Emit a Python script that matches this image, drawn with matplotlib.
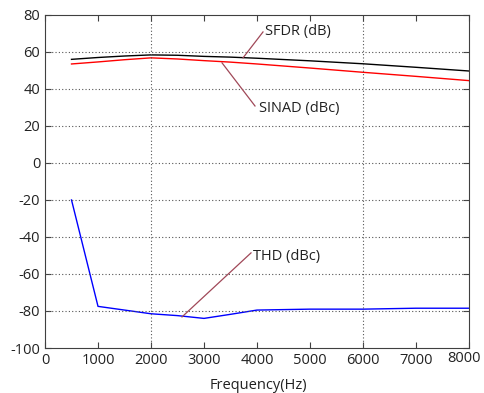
import matplotlib
matplotlib.use('Agg')
import matplotlib.pyplot as plt
import matplotlib.transforms as mtransforms

# данные
freq = [500, 1000, 1500, 2000, 2500, 3000, 3500, 4000, 5000, 6000, 7000, 8000]
sfdr = [56.0, 57.0, 57.8, 58.4, 58.2, 57.6, 57.2, 56.6, 55.2, 53.6, 51.7, 49.7]
sinad = [53.5, 54.6, 55.8, 56.8, 56.2, 55.3, 54.5, 53.5, 51.3, 49.0, 46.8, 44.5]
thd = [-20.0, -77.5, -79.5, -81.5, -82.5, -84.0, -81.8, -79.5, -79.0, -79.0, -78.5, -78.5]

xticks = [0, 1000, 2000, 3000, 4000, 5000, 6000, 7000, 8000]
yticks = [-100, -80, -60, -40, -20, 0, 20, 40, 60, 80]

# выноски: (текст, точка на кривой, конец линии)
labels = ['SFDR (dB)', 'SINAD (dBc)', 'THD (dBc)']
label_from = [(3736, 56.8), (3340, 54.1), (2585, -83.2)]
label_to = [(4113, 70.8), (3962, 30.8), (3887, -48.6)]
label_text = [(4151, 70.8), (4038, 29.7), (3925, -50.3)]

plt.rcParams['font.family'] = ['Open Sans', 'DejaVu Sans']
plt.rcParams['axes.unicode_minus'] = False

fig = plt.figure(figsize=(4.84, 3.93), dpi=100)
ax = fig.add_axes([0.093, 0.1145, 0.876, 0.8475])

ax.plot(freq, sfdr, color='black', linewidth=1.0)
ax.plot(freq, sinad, color='red', linewidth=1.0)
ax.plot(freq, thd, color='blue', linewidth=1.0)

ax.set_xlim(0, 8000)
ax.set_ylim(-100, 80)
ax.set_xticks(xticks)
ax.set_yticks(yticks)
ax.tick_params(direction='in', length=4, top=True, right=True, labelsize=10.5,
               color='#404040', labelcolor='#222222')

# последняя подпись по x чуть левее, чтобы не обрезалась
last = ax.get_xticklabels()[-1]
last.set_transform(last.get_transform() +
                   mtransforms.ScaledTranslation(-5 / 100, 2 / 100, fig.dpi_scale_trans))

# сетка
for y in yticks[1:-1]:
    ax.axhline(y, color='#555555', linewidth=0.8, linestyle=(0, (1, 2)))
for x in [2000, 6000]:
    ax.axvline(x, color='#555555', linewidth=0.8, linestyle=(0, (1, 2)))

for s in ax.spines.values():
    s.set_color('#404040')

# подписи с выносками
for txt, p0, p1, pt in zip(labels, label_from, label_to, label_text):
    ax.plot([p0[0], p1[0]], [p0[1], p1[1]], color='#a04858', linewidth=0.9)
    ax.text(pt[0], pt[1], txt, fontsize=10.5, va='center', ha='left', color='#222222')

fig.text(0.533, 0.018, 'Frequency(Hz)', ha='center', va='center', fontsize=10.5,
         color='#222222')

fig.savefig('out.png', dpi=100)
